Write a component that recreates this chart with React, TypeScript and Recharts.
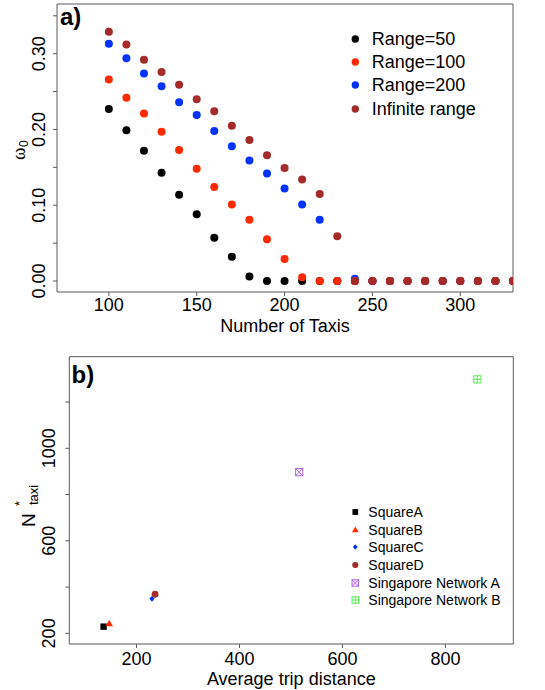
import React from 'react';
import { ScatterChart, Scatter, XAxis, YAxis, ReferenceArea, Legend } from 'recharts';

const SANS = '"Liberation Sans", Arial, Helvetica, sans-serif';
const SERIF = '"Liberation Serif", "DejaVu Serif", serif';
const AXIS_GRAY = '#5a5a5a';

// ---------- Panel a data ----------
const taxiCounts = [100, 110, 120, 130, 140, 150, 160, 170, 180, 190, 200, 210, 220, 230, 240, 250, 260, 270, 280, 290, 300, 310, 320, 330];
const omegaRange50 = [0.227, 0.199, 0.172, 0.143, 0.114, 0.088, 0.057, 0.032, 0.006, 0, 0, 0, 0, 0, 0, 0, 0, 0, 0, 0, 0, 0, 0, 0];
const omegaRange100 = [0.266, 0.242, 0.221, 0.197, 0.173, 0.148, 0.124, 0.101, 0.081, 0.055, 0.029, 0.005, 0, 0, 0, 0, 0, 0, 0, 0, 0, 0, 0, 0];
const omegaRange200 = [0.313, 0.294, 0.274, 0.257, 0.236, 0.219, 0.198, 0.178, 0.159, 0.142, 0.122, 0.101, 0.081, 0, 0.003, 0, 0, 0, 0, 0, 0, 0, 0, 0];
const omegaInfinite = [0.329, 0.312, 0.292, 0.276, 0.259, 0.240, 0.224, 0.205, 0.186, 0.166, 0.149, 0.134, 0.115, 0.059, 0, 0, 0, 0, 0, 0, 0, 0, 0, 0];
const seriesNamesA = ['Range=50', 'Range=100', 'Range=200', 'Infinite range'];
const seriesColorsA = ['#000000', '#ff2a00', '#0033ff', '#a52a2a'];
const seriesValuesA = [omegaRange50, omegaRange100, omegaRange200, omegaInfinite];
const drawOrderA = [0, 2, 1, 3];
const xTicksA = [100, 150, 200, 250, 300];
const yTicksA = [0, 0.05, 0.1, 0.15, 0.2, 0.25, 0.3, 0.35];
const yLabelledA = [0, 0.1, 0.2, 0.3];
const xDomainA: [number, number] = [70.5, 330];
const yDomainA: [number, number] = [-0.0145, 0.3656];

// ---------- Panel b data ----------
const networkNames = ['SquareA', 'SquareB', 'SquareC', 'SquareD', 'Singapore Network A', 'Singapore Network B'];
const avgTripDistance = [136, 147, 230, 236, 516, 862];
const nTaxiStar = [229, 242, 350, 369, 897, 1298];
const networkColors = ['#000000', '#ff2a00', '#0033ff', '#a52a2a', '#b060f0', '#55ee55'];
const networkMarkers = ['square', 'triangle', 'diamond', 'circle', 'boxX', 'boxPlus'];
const xTicksB = [200, 400, 600, 800];
const yTicksB = [200, 400, 600, 800, 1000, 1200];
const yLabelledB = [200, 600, 1000];
const xDomainB: [number, number] = [69.4, 931.8];
const yDomainB: [number, number] = [154, 1396];

const dataA = seriesValuesA.map((vals) => taxiCounts.map((x, i) => ({ x, y: vals[i] })));
const dataB = networkNames.map((name, i) => [{ x: avgTripDistance[i], y: nTaxiStar[i], name }]);

function Marker({ kind, color, cx, cy, scale = 1 }: any) {
  const s = scale;
  switch (kind) {
    case 'square':
      return <rect x={cx - 3.2 * s} y={cy - 3.2 * s} width={6.4 * s} height={6.4 * s} fill={color} />;
    case 'triangle':
      return (
        <polygon
          points={`${cx},${cy - 4 * s} ${cx + 3.7 * s},${cy + 2.6 * s} ${cx - 3.7 * s},${cy + 2.6 * s}`}
          fill={color}
        />
      );
    case 'diamond':
      return (
        <polygon
          points={`${cx},${cy - 3 * s} ${cx + 2.6 * s},${cy} ${cx},${cy + 3 * s} ${cx - 2.6 * s},${cy}`}
          fill={color}
        />
      );
    case 'circle':
      return <circle cx={cx} cy={cy} r={3.4 * s} fill={color} />;
    case 'boxX': {
      const h = 3.6 * s;
      return (
        <g stroke={color} strokeWidth={1} fill="none">
          <rect x={cx - h} y={cy - h} width={2 * h} height={2 * h} />
          <line x1={cx - h} y1={cy - h} x2={cx + h} y2={cy + h} />
          <line x1={cx - h} y1={cy + h} x2={cx + h} y2={cy - h} />
        </g>
      );
    }
    case 'boxPlus': {
      const h = 3.6 * s;
      return (
        <g stroke={color} strokeWidth={1} fill="none">
          <rect x={cx - h} y={cy - h} width={2 * h} height={2 * h} />
          <line x1={cx} y1={cy - h} x2={cx} y2={cy + h} />
          <line x1={cx - h} y1={cy} x2={cx + h} y2={cy} />
        </g>
      );
    }
    default:
      return null;
  }
}

const isIn = (arr: number[], v: number) => arr.some((a) => Math.abs(a - v) < 1e-9);

const makeYTick = (labelled: number[], dx: number, fmt: (v: number) => string) => (props: any) => {
  const { x, y, payload } = props;
  if (!isIn(labelled, payload.value)) return <g />;
  const bx = x + dx;
  return (
    <text
      x={bx}
      y={y}
      transform={`rotate(-90 ${bx} ${y})`}
      textAnchor="middle"
      fontSize={18}
      fontFamily={SANS}
      fill="#000"
    >
      {fmt(payload.value)}
    </text>
  );
};

const makeXTick = (dy: number) => (props: any) => {
  const { x, y, payload } = props;
  return (
    <text x={x} y={y + dy} textAnchor="middle" fontSize={18} fontFamily={SANS} fill="#000">
      {String(payload.value)}
    </text>
  );
};

const xTitle = (title: string, dy: number) => (p: any) => {
  const vb = p.viewBox || {};
  return (
    <text x={vb.x + vb.width / 2} y={vb.y + dy} textAnchor="middle" fontSize={18} fontFamily={SANS} fill="#000">
      {title}
    </text>
  );
};

const omegaTitle = (p: any) => {
  const vb = p.viewBox || {};
  const cx = vb.x + 25;
  const cy = vb.y + vb.height / 2 + 12;
  return (
    <g transform={`translate(${cx} ${cy}) rotate(-90)`}>
      <text x={0} y={0} fontSize={19} fontFamily={SERIF} fill="#000">ω</text>
      <text x={13} y={3} fontSize={12} fontFamily={SANS} fill="#000">0</text>
    </g>
  );
};

const nTaxiTitle = (p: any) => {
  const vb = p.viewBox || {};
  const cx = vb.x + 35;
  const cy = vb.y + vb.height / 2 + 26.7;
  return (
    <g transform={`translate(${cx} ${cy}) rotate(-90)`}>
      <text x={0} y={0} fontSize={19} fontFamily={SANS} fill="#000">N</text>
      <text x={22} y={3} fontSize={13} fontFamily={SANS} fill="#000">taxi</text>
      <text x={21} y={-11} fontSize={13} fontFamily={SANS} fill="#000">*</text>
    </g>
  );
};

const LegendA = () => (
  <div style={{ fontFamily: SANS, fontSize: 18, color: '#000' }}>
    {seriesNamesA.map((name, i) => (
      <div key={name} style={{ display: 'flex', alignItems: 'center', height: 23.3 }}>
        <svg width={20} height={20} style={{ flex: 'none' }}>
          <circle cx={10.3} cy={10} r={3.7} fill={seriesColorsA[i]} />
        </svg>
        <span style={{ marginLeft: 6.7, whiteSpace: 'nowrap', lineHeight: '20px' }}>{name}</span>
      </div>
    ))}
  </div>
);

const LegendB = () => (
  <div style={{ fontFamily: SANS, fontSize: 14, color: '#000' }}>
    {networkNames.map((name, i) => (
      <div key={name} style={{ display: 'flex', alignItems: 'center', height: 17.65 }}>
        <svg width={20} height={16} style={{ flex: 'none' }}>
          <Marker kind={networkMarkers[i]} color={networkColors[i]} cx={10.3} cy={8} scale={0.9} />
        </svg>
        <span style={{ marginLeft: 3.3, whiteSpace: 'nowrap', lineHeight: '16px' }}>{name}</span>
      </div>
    ))}
  </div>
);

const panelLabelStyle: React.CSSProperties = {
  position: 'absolute',
  fontFamily: SANS,
  fontWeight: 'bold',
  fontSize: 24,
  lineHeight: '24px',
  color: '#000',
};

export default function App() {
  return (
    <div style={{ position: 'absolute', left: 0, top: 0, width: 545, height: 690, background: '#fff' }}>
      <div style={{ position: 'absolute', left: 0, top: 0 }}>
        <ScatterChart width={545} height={340} margin={{ top: 4, right: 32, bottom: 0, left: 0 }}>
          <XAxis
            type="number"
            dataKey="x"
            domain={xDomainA}
            allowDataOverflow
            ticks={xTicksA}
            interval={0}
            tickSize={4}
            tickMargin={0}
            stroke={AXIS_GRAY}
            axisLine={false}
            height={48}
            tick={makeXTick(15.3)}
            label={{ content: xTitle('Number of Taxis', 39.6) }}
          />
          <YAxis
            type="number"
            dataKey="y"
            domain={yDomainA}
            allowDataOverflow
            ticks={yTicksA}
            interval={0}
            tickSize={4}
            tickMargin={0}
            stroke={AXIS_GRAY}
            axisLine={false}
            width={57}
            tick={makeYTick(yLabelledA, -8, (v) => v.toFixed(2))}
            label={{ content: omegaTitle }}
          />
          <ReferenceArea
            x1={xDomainA[0]}
            x2={xDomainA[1]}
            y1={yDomainA[0]}
            y2={yDomainA[1]}
            fill="none"
            fillOpacity={0}
            stroke={AXIS_GRAY}
            strokeWidth={1}
            ifOverflow="visible"
          />
          {drawOrderA.map((si) => (
            <Scatter
              key={seriesNamesA[si]}
              name={seriesNamesA[si]}
              data={dataA[si]}
              fill={seriesColorsA[si]}
              isAnimationActive={false}
              shape={(p: any) => <circle cx={p.cx} cy={p.cy} r={4} fill={seriesColorsA[si]} />}
            />
          ))}
          <Legend
            layout="vertical"
            align="center"
            verticalAlign="middle"
            content={() => <LegendA />}
            wrapperStyle={{ position: 'absolute', left: 345, top: 27, width: 200, height: 100 }}
          />
        </ScatterChart>
        <div style={{ ...panelLabelStyle, left: 60, top: 5 }}>a)</div>
      </div>
      <div style={{ position: 'absolute', left: 0, top: 340 }}>
        <ScatterChart width={545} height={350} margin={{ top: 16.7, right: 31.7, bottom: 0, left: 0 }}>
          <XAxis
            type="number"
            dataKey="x"
            domain={xDomainB}
            allowDataOverflow
            ticks={xTicksB}
            interval={0}
            tickSize={4}
            tickMargin={0}
            stroke={AXIS_GRAY}
            axisLine={false}
            height={46}
            tick={makeXTick(17)}
            label={{ content: xTitle('Average trip distance', 41.3) }}
          />
          <YAxis
            type="number"
            dataKey="y"
            domain={yDomainB}
            allowDataOverflow
            ticks={yTicksB}
            interval={0}
            tickSize={4}
            tickMargin={0}
            stroke={AXIS_GRAY}
            axisLine={false}
            width={69.3}
            tick={makeYTick(yLabelledB, -10.3, (v) => String(v))}
            label={{ content: nTaxiTitle }}
          />
          <ReferenceArea
            x1={xDomainB[0]}
            x2={xDomainB[1]}
            y1={yDomainB[0]}
            y2={yDomainB[1]}
            fill="none"
            fillOpacity={0}
            stroke={AXIS_GRAY}
            strokeWidth={1}
            ifOverflow="visible"
          />
          {networkNames.map((name, i) => (
            <Scatter
              key={name}
              name={name}
              data={dataB[i]}
              fill={networkColors[i]}
              isAnimationActive={false}
              shape={(p: any) => <Marker kind={networkMarkers[i]} color={networkColors[i]} cx={p.cx} cy={p.cy} />}
            />
          ))}
          <Legend
            layout="vertical"
            align="center"
            verticalAlign="middle"
            content={() => <LegendB />}
            wrapperStyle={{ position: 'absolute', left: 345, top: 163.2, width: 200, height: 110 }}
          />
        </ScatterChart>
        <div style={{ ...panelLabelStyle, left: 71.5, top: 23 }}>b)</div>
      </div>
    </div>
  );
}
